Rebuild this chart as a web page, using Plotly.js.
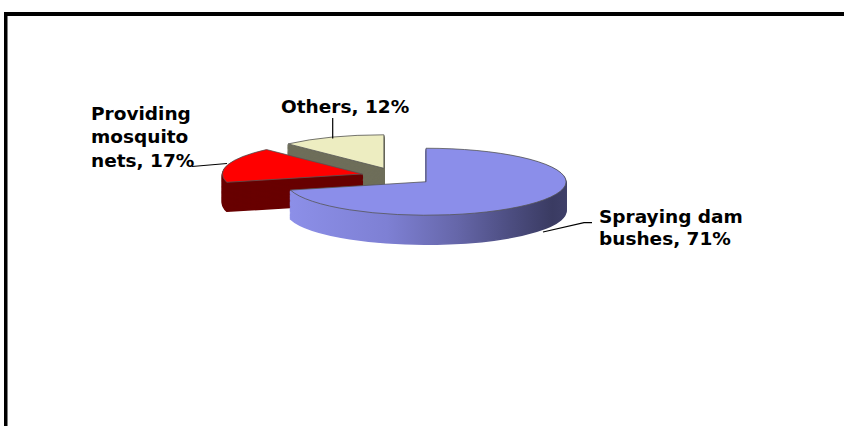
<!DOCTYPE html>
<html><head><meta charset="utf-8">
<script src="https://cdn.plot.ly/plotly-3.0.1.min.js"></script>
<style>
html,body{margin:0;padding:0;background:#fff;}
#chart{width:844px;height:426px;}
.pielayer path.surface{vector-effect:non-scaling-stroke;}
</style></head><body>
<div id="chart"></div>
<script>
// ---- data ----
const labels = ['Others', 'Providing mosquito nets', 'Spraying dam bushes'];
const values = [12, 17, 71];
const labelLines = [['Others, 12%'], ['Providing', 'mosquito', 'nets, 17%'], ['Spraying dam', 'bushes, 71%']];
const topColors = ['#EDEDC1', '#FF0000', '#8B8EEA'];
const sideColors = ['#6E6E5A', '#680000', '#6062A4'];

// ---- layout settings ----
const W = 844, H = 426;
const PULL = 0.26;
const RX = 140, RY = 33.5, CX = 397.3, CY = 176.4, DEPTH = 29, NLAYERS = 24;
const px = x => x / W, py = y => 1 - y / H;
const total = values.reduce((a, b) => a + b, 0);
const ROT = -360 * values[0] / total;
// label line positions (left x, vertical middle y) in pixels
const labelPos = [
  [[280, 106.9]],
  [[90, 113.6], [90, 136.9], [90, 160.3]],
  [[598, 216.1], [598, 238.1]]
];
const leaders = [
  [[332.7, 118], [332.7, 138.5]],
  [[192, 166.5], [227, 163.5]],
  [[592, 222.7], [584, 222.7], [543, 232]]
];

const traces = [];
for (let j = 0; j < NLAYERS; j++) {
  traces.push({type: 'pie', labels: labels, values: values, sort: false,
    direction: 'counterclockwise', rotation: ROT, pull: PULL,
    marker: {colors: sideColors, line: {color: sideColors, width: 1.5}},
    textinfo: 'none', hoverinfo: 'skip', showlegend: false});
}
traces.push({type: 'pie', labels: labels, values: values, sort: false,
  direction: 'counterclockwise', rotation: ROT, pull: PULL,
  marker: {colors: topColors, line: {color: '#555555', width: 0.8}},
  textinfo: 'none', hoverinfo: 'skip', showlegend: false});

const annotations = [];
labelLines.forEach((lines, i) => {
  lines.forEach((t, k) => {
    annotations.push({text: t, xref: 'paper', yref: 'paper',
      x: px(labelPos[i][k][0]), y: py(labelPos[i][k][1]),
      xanchor: 'left', yanchor: 'middle', showarrow: false, borderpad: 0,
      font: {family: 'DejaVu Sans', size: 18.5, color: '#000', weight: 'bold'}});
  });
});

const shapes = [
  {type: 'rect', xref: 'paper', yref: 'paper', x0: px(4), x1: 1, y0: py(16), y1: py(12),
    fillcolor: '#000', line: {width: 0}},
  {type: 'rect', xref: 'paper', yref: 'paper', x0: px(4), x1: px(7.5), y0: 0, y1: py(12),
    fillcolor: '#000', line: {width: 0}}
];
leaders.forEach(pts => {
  const d = pts.map((p, i) => (i ? 'L' : 'M') + px(p[0]) + ',' + py(p[1])).join(' ');
  shapes.push({type: 'path', xref: 'paper', yref: 'paper', path: d, line: {color: '#000', width: 1.2}});
});

const layout = {
  width: W, height: H, margin: {l: 0, r: 0, t: 0, b: 0},
  paper_bgcolor: '#fff', plot_bgcolor: '#fff', showlegend: false,
  annotations: annotations, shapes: shapes
};

function squash(gd) {
  const groups = gd.querySelectorAll('.pielayer g.trace');
  groups.forEach((g, i) => {
    const cd0 = (gd.calcdata && gd.calcdata[i] && gd.calcdata[i][0]) || {};
    const r = cd0.r || Math.min(W, H) / (2 + 2 * PULL);
    const cx = cd0.cx || W / 2, cy = cd0.cy || H / 2;
    const sx = RX / r, sy = RY / r;
    const off = i < NLAYERS ? DEPTH * (NLAYERS - i) / NLAYERS : 0;
    g.setAttribute('transform', 'translate(' + CX + ',' + (CY + off) + ') scale(' + sx + ',' + sy + ') translate(' + (-cx) + ',' + (-cy) + ')');
  });
  const svg = gd.querySelector('svg.main-svg');
  const NS = 'http://www.w3.org/2000/svg';
  if (!document.getElementById('blueSideGrad')) {
    const defs = document.createElementNS(NS, 'defs');
    const lg = document.createElementNS(NS, 'linearGradient');
    lg.setAttribute('id', 'blueSideGrad');
    lg.setAttribute('x1', '0'); lg.setAttribute('y1', '0');
    lg.setAttribute('x2', '1'); lg.setAttribute('y2', '0');
    [[0, '#8C8FE8'], [0.35, '#7E80D4'], [0.6, '#6667AA'], [0.8, '#4C4D80'], [0.95, '#3A3B62'], [1, '#3E3F68']].forEach(s => {
      const st = document.createElementNS(NS, 'stop');
      st.setAttribute('offset', s[0]); st.setAttribute('stop-color', s[1]);
      lg.appendChild(st);
    });
    defs.appendChild(lg); svg.insertBefore(defs, svg.firstChild);
  }
  groups.forEach((g, i) => {
    if (i >= NLAYERS) return;
    const slices = g.querySelectorAll('g.slice');
    if (slices[2]) {
      const p = slices[2].querySelector('path.surface');
      if (p) { p.style.fill = 'url(#blueSideGrad)'; p.style.stroke = 'url(#blueSideGrad)'; }
    }
  });
}

Plotly.newPlot('chart', traces, layout, {displayModeBar: false, staticPlot: true}).then(squash);
</script>
</body></html>
